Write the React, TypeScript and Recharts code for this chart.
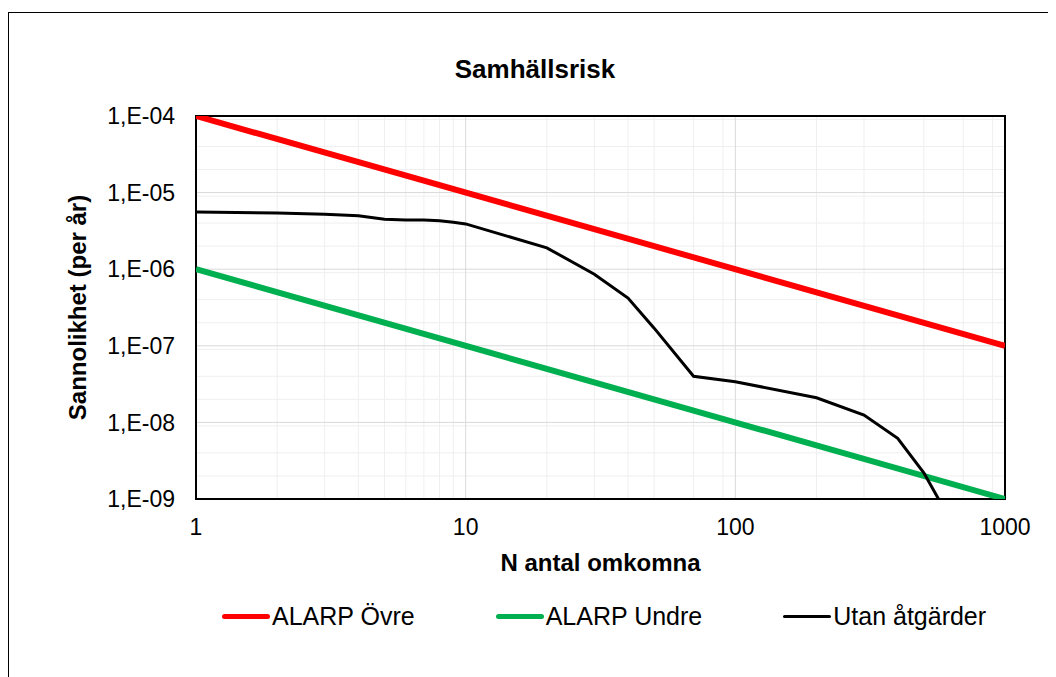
import {
  CartesianGrid,
  Line,
  LineChart,
  ReferenceArea,
  XAxis,
  YAxis,
} from 'recharts';

// ALARP limits (F-N curve, slope -1)
const upperN = [1, 1000];
const upperP = [1e-4, 1e-7];
const lowerN = [1, 1000];
const lowerP = [1e-6, 1e-9];

// societal risk without measures
const riskN = [1, 2, 3, 4, 5, 6, 7, 8, 9, 10, 20, 30, 40, 50, 70, 100, 200, 300, 400, 500, 600];
const riskP = [
  5.6e-6, 5.4e-6, 5.2e-6, 5.0e-6, 4.5e-6, 4.4e-6, 4.4e-6, 4.3e-6, 4.1e-6, 3.9e-6,
  1.9e-6, 8.6e-7, 4.2e-7, 1.7e-7, 4.0e-8, 3.4e-8, 2.1e-8, 1.25e-8, 6.2e-9, 2.2e-9, 7e-10,
];

const xTicks = [1, 10, 100, 1000];
const yTicks = [1e-9, 1e-8, 1e-7, 1e-6, 1e-5, 1e-4];
const minorMult = [2, 3, 4, 5, 6, 7, 8, 9];

const xMinor = xTicks.slice(0, -1).flatMap((d) => minorMult.map((m) => d * m));
const yMinor = yTicks.slice(0, -1).flatMap((d) => minorMult.map((m) => d * m));

const toRows = (ns: number[], ps: number[]) => ns.map((n, i) => ({ n, p: ps[i] }));

const series = [
  { name: 'ALARP Övre', color: '#ff0000', width: 6, data: toRows(upperN, upperP) },
  { name: 'ALARP Undre', color: '#00b050', width: 6, data: toRows(lowerN, lowerP) },
  { name: 'Utan åtgärder', color: '#000000', width: 3, data: toRows(riskN, riskP) },
];

const FONT = '"Liberation Sans", Arial, sans-serif';

const fmtY = (v: number) => {
  const e = Math.round(Math.log10(v));
  return `1,E-${String(-e).padStart(2, '0')}`;
};

function LegendRow() {
  return (
    <div
      style={{
        position: 'absolute',
        top: 589,
        left: 213,
        display: 'flex',
        gap: 81,
        fontSize: 25,
        whiteSpace: 'nowrap',
      }}
    >
      {series.map((s) => (
        <span key={s.name} style={{ display: 'inline-flex', alignItems: 'center', gap: 2 }}>
          <span
            style={{
              display: 'inline-block',
              width: 48,
              height: s.width === 6 ? 5 : 3,
              borderRadius: 3,
              background: s.color,
            }}
          />
          {s.name}
        </span>
      ))}
    </div>
  );
}

export default function App() {
  return (
    <div
      style={{
        position: 'relative',
        marginTop: 4,
        width: 1048,
        height: 665,
        borderLeft: '1px solid #000',
        borderTop: '1px solid #000',
        fontFamily: FONT,
        color: '#000',
      }}
    >
      <div
        style={{
          position: 'absolute',
          top: 41,
          left: 0,
          width: 1052,
          textAlign: 'center',
          fontWeight: 'bold',
          fontSize: 26,
        }}
      >
        Samhällsrisk
      </div>
      <LineChart
        width={1040}
        height={660}
        margin={{ top: 103, right: 44, bottom: 0, left: 0 }}
      >
        <CartesianGrid
          stroke="#efefef"
          horizontalValues={yMinor}
          verticalValues={xMinor}
        />
        <CartesianGrid
          stroke="#d9d9d9"
          horizontalValues={yTicks}
          verticalValues={xTicks}
        />
        <XAxis
          dataKey="n"
          type="number"
          scale="log"
          domain={[1, 1000]}
          ticks={xTicks}
          allowDataOverflow
          tickLine={false}
          tickSize={0}
          tickMargin={20}
          axisLine={false}
          height={174}
          tick={{ fontSize: 23, fill: '#000', fontFamily: FONT }}
          label={{
            value: 'N antal omkomna',
            position: 'insideTop',
            offset: 55,
            style: { fontSize: 24, fontWeight: 'bold', fill: '#000', fontFamily: FONT },
          }}
        />
        <YAxis
          dataKey="p"
          type="number"
          scale="log"
          domain={[1e-9, 1e-4]}
          ticks={yTicks}
          allowDataOverflow
          tickFormatter={fmtY}
          tickLine={false}
          tickSize={0}
          tickMargin={21}
          axisLine={false}
          width={187}
          tick={{ fontSize: 23, fill: '#000', fontFamily: FONT }}
          label={{
            value: 'Sannolikhet (per år)',
            angle: -90,
            position: 'center',
            dx: -25,
            style: { fontSize: 24, fontWeight: 'bold', fill: '#000', fontFamily: FONT, textAnchor: 'middle' },
          }}
        />
        <ReferenceArea
          x1={1}
          x2={1000}
          y1={1e-9}
          y2={1e-4}
          fill="none"
          stroke="#000"
          strokeWidth={2}
          ifOverflow="visible"
        />
        {series.map((s) => (
          <Line
            key={s.name}
            data={s.data}
            dataKey="p"
            name={s.name}
            type="linear"
            stroke={s.color}
            strokeWidth={s.width}
            dot={false}
            activeDot={false}
            isAnimationActive={false}
          />
        ))}
      </LineChart>
      <LegendRow />
    </div>
  );
}
